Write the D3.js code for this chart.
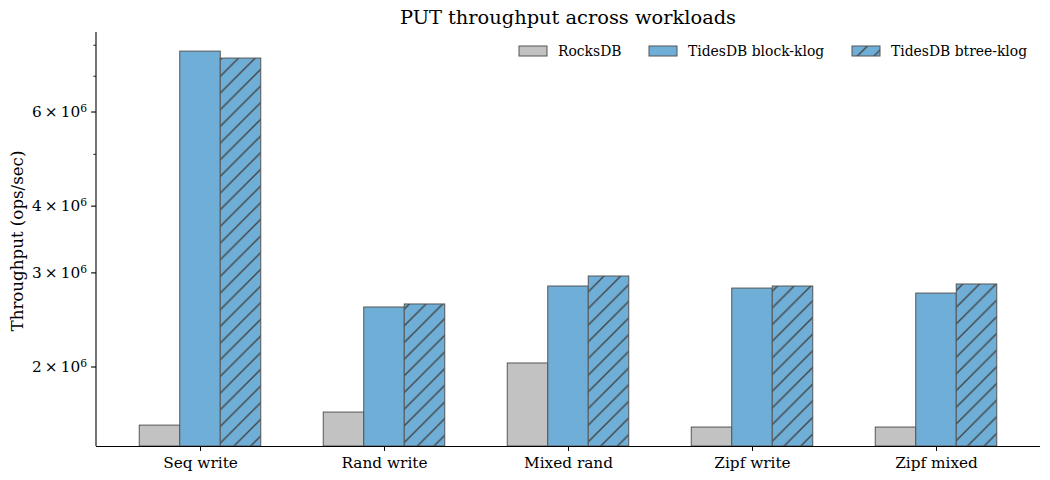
<!DOCTYPE html>
<html><head><meta charset="utf-8">
<script src="https://cdn.jsdelivr.net/npm/d3@7"></script>
<style>body{margin:0;background:#fff}svg{font-family:"DejaVu Serif",serif}</style>
</head><body><svg id="c" width="1050" height="480"></svg>
<script>
const categories = ["Seq write","Rand write","Mixed rand","Zipf write","Zipf mixed"];
const seriesNames = ["RocksDB","TidesDB block-klog","TidesDB btree-klog"];
const rocksdb = [1.557e6, 1.647e6, 2.035e6, 1.544e6, 1.544e6];
const blockKlog = [7.80e6, 2.59e6, 2.835e6, 2.81e6, 2.75e6];
const btreeKlog = [7.57e6, 2.624e6, 2.96e6, 2.835e6, 2.86e6];
const majorTicks = [2e6, 3e6, 4e6, 6e6];
const minorTicks = [5e6, 7e6, 8e6];
const yDomain = [1.423e6, 8.47e6];

const series = [rocksdb, blockKlog, btreeKlog];
const fills = ["#c2c2c2", "#6fafd7", "#6fafd7"];
const hatched = [false, false, true];
const edge = "#555555";

const svg = d3.select("#c");
const L = 96, R = 1040, T = 32, B = 446;
const defs = svg.append("defs");
const pat = defs.append("pattern").attr("id","hatch").attr("patternUnits","userSpaceOnUse")
  .attr("width",16.67).attr("height",16.67).attr("y", 480 % 16.67);
pat.append("rect").attr("width",16.67).attr("height",16.67).attr("fill","#6fafd7");
pat.append("path").attr("d","M-4.17,4.17 L4.17,-4.17 M0,16.67 L16.67,0 M12.5,20.84 L20.84,12.5")
  .attr("stroke","#444").attr("stroke-width",1.4);

const xc = d3.scalePoint().domain(categories).range([200, 936]);
const bw = 40.5;
const y = d3.scaleLog().domain(yDomain).range([B, T]);

const g = svg.append("g");
series.forEach((vals, si) => {
  g.selectAll(null).data(vals).enter().append("rect")
    .attr("x", (d,i) => xc(categories[i]) + (si - 1.5) * bw)
    .attr("width", bw)
    .attr("y", d => y(d))
    .attr("height", d => B - y(d))
    .attr("fill", hatched[si] ? "url(#hatch)" : fills[si])
    .attr("stroke", edge).attr("stroke-width", 1);
});

// x axis
const xAxis = svg.append("g").attr("transform", `translate(0,${B})`)
  .call(d3.axisBottom(xc).tickSize(4.9).tickPadding(4).tickSizeOuter(0));
xAxis.select(".domain").attr("d", `M${L},0.5H${R}`).attr("stroke","#000").attr("stroke-width",1.1);
xAxis.selectAll("text").attr("font-size", 15.3).attr("font-family","DejaVu Serif").attr("fill","#000").attr("dy","0.85em");

// y axis
const yAxis = svg.append("g").attr("transform", `translate(${L},0)`);
yAxis.append("line").attr("x1",0).attr("x2",0).attr("y1",T).attr("y2",B).attr("stroke","#000").attr("stroke-width",1.1);
majorTicks.forEach(v => {
  yAxis.append("line").attr("x1",-4.9).attr("x2",0).attr("y1",y(v)).attr("y2",y(v)).attr("stroke","#000").attr("stroke-width",1.1);
  const t = yAxis.append("text").attr("x",-9).attr("y",y(v)).attr("dy","0.35em").attr("text-anchor","end")
    .attr("font-size",15.3).attr("fill","#000");
  const m = Math.round(v / 1e6);
  t.append("tspan").text(m + "\u2009\u00d7\u200910");
  t.append("tspan").attr("dy","-0.5em").attr("font-size",10.7).text("6");
});
minorTicks.forEach(v => {
  yAxis.append("line").attr("x1",-2.8).attr("x2",0).attr("y1",y(v)).attr("y2",y(v)).attr("stroke","#000").attr("stroke-width",0.8);
});

svg.append("text").attr("transform",`translate(23,${(T+B)/2 + 2}) rotate(-90)`).attr("text-anchor","middle")
  .attr("font-size",16.67).attr("fill","#000").text("Throughput (ops/sec)");
svg.append("text").attr("x",(L+R)/2).attr("y",24).attr("text-anchor","middle")
  .attr("font-size",19.4).attr("fill","#000").text("PUT throughput across workloads");

// legend
const legX = [519, 649, 852];
seriesNames.forEach((n, i) => {
  svg.append("rect").attr("x",legX[i]).attr("y",46).attr("width",28).attr("height",10)
    .attr("fill", hatched[i] ? "url(#hatch)" : fills[i]).attr("stroke",edge).attr("stroke-width",1);
  svg.append("text").attr("x",legX[i]+39).attr("y",51).attr("dy","0.35em").attr("font-size",13.9).attr("fill","#000").text(n);
});
</script></body></html>
